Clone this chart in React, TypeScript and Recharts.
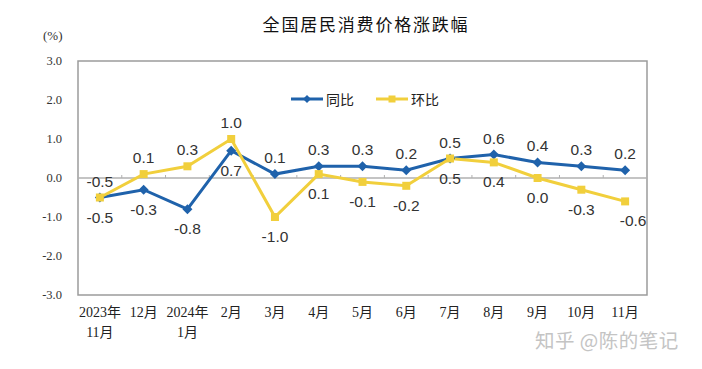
import {
  LineChart,
  Line,
  XAxis,
  YAxis,
  Legend,
  LabelList,
  ReferenceLine,
  ReferenceArea,
} from "recharts";

const months = [
  "2023年\n11月",
  "12月",
  "2024年\n1月",
  "2月",
  "3月",
  "4月",
  "5月",
  "6月",
  "7月",
  "8月",
  "9月",
  "10月",
  "11月",
];
const yoy = [-0.5, -0.3, -0.8, 0.7, 0.1, 0.3, 0.3, 0.2, 0.5, 0.6, 0.4, 0.3, 0.2];
const mom = [-0.5, 0.1, 0.3, 1.0, -1.0, 0.1, -0.1, -0.2, 0.5, 0.4, 0.0, -0.3, -0.6];
const yTicks = [-3, -2, -1, 0, 1, 2, 3];

const data = months.map((m, i) => ({ month: m, yoy: yoy[i], mom: mom[i] }));

const BLUE = "#1f62ab";
const YELLOW = "#f1cf3c";
const SANS = "'Liberation Sans', Arial, 'Noto Sans CJK SC', sans-serif";
const SERIF = "'Liberation Serif', 'Noto Sans CJK SC', serif";

// which series label sits above the point
const yoyAbove = (i: number) => i > 0 && yoy[i] >= mom[i];

const Diamond = ({ cx, cy }: any) => (
  <path
    d={`M${cx},${cy - 5}L${cx + 5},${cy}L${cx},${cy + 5}L${cx - 5},${cy}Z`}
    fill={BLUE}
  />
);

const Square = ({ cx, cy }: any) => (
  <rect x={cx - 4} y={cy - 4} width={8} height={8} fill={YELLOW} />
);

const makeLabel =
  (above: (i: number) => boolean) =>
  ({ x, y, value, index }: any) => {
    const up = above(index);
    const dx = index === months.length - 1 && !up ? 8 : 0;
    return (
      <text
        x={x + dx}
        y={up ? y - 11 : y + 25}
        textAnchor="middle"
        fontSize={15.5}
        fontFamily={SANS}
        fill="#333"
      >
        {Number(value).toFixed(1)}
      </text>
    );
  };

const MonthTick = ({ x, y, payload }: any) => {
  const lines = String(payload.value).split("\n");
  return (
    <text x={x} y={y} textAnchor="middle" fontSize={14} fontFamily={SERIF} fill="#222">
      {lines.map((l, i) => (
        <tspan key={i} x={x} dy={i === 0 ? 14 : 20}>
          {l}
        </tspan>
      ))}
    </text>
  );
};

const ZeroLine = ({ x1, y1, x2 }: any) => {
  const step = (x2 - x1) / months.length;
  return (
    <g>
      <line x1={x1} y1={y1} x2={x2} y2={y1} stroke="#b0b0b0" strokeWidth={1.5} />
      {months.slice(1).map((_, i) => (
        <line
          key={i}
          x1={x1 + step * (i + 1)}
          x2={x1 + step * (i + 1)}
          y1={y1}
          y2={y1 - 3}
          stroke="#b0b0b0"
        />
      ))}
    </g>
  );
};

const LegendContent = () => (
  <div style={{ display: "flex", gap: 22, fontFamily: "'Noto Sans CJK SC', sans-serif", fontSize: 14, color: "#222" }}>
    <div style={{ display: "flex", alignItems: "center" }}>
      <svg width={32} height={12}>
        <line x1={0} y1={6} x2={32} y2={6} stroke={BLUE} strokeWidth={3} />
        <path d="M16,2L20,6L16,10L12,6Z" fill={BLUE} />
      </svg>
      <span style={{ marginLeft: 3 }}>同比</span>
    </div>
    <div style={{ display: "flex", alignItems: "center" }}>
      <svg width={32} height={12}>
        <line x1={0} y1={6} x2={32} y2={6} stroke={YELLOW} strokeWidth={3} />
        <rect x={12.5} y={2.5} width={7} height={7} fill={YELLOW} />
      </svg>
      <span style={{ marginLeft: 3 }}>环比</span>
    </div>
  </div>
);

export default function App() {
  return (
    <div
      style={{
        position: "absolute",
        left: 0,
        top: 0,
        width: 702,
        height: 369,
        background: "#fff",
      }}
    >
      <div
        style={{
          position: "absolute",
          left: 0,
          width: 732,
          top: 11,
          textAlign: "center",
          fontFamily: "'Noto Sans CJK SC', sans-serif",
          fontSize: 17,
          letterSpacing: 1.8,
          color: "#111",
        }}
      >
        全国居民消费价格涨跌幅
      </div>
      <div
        style={{
          position: "absolute",
          left: 43,
          top: 28,
          fontFamily: SERIF,
          fontSize: 13,
          color: "#333",
        }}
      >
        (%)
      </div>
      <LineChart
        width={702}
        height={369}
        data={data}
        margin={{ top: 61, right: 55, bottom: 29, left: 38 }}
      >
        <ReferenceArea y1={-3} y2={3} fill="none" stroke="#9c9c9c" strokeWidth={1.5} />
        <ReferenceLine y={0} shape={<ZeroLine />} />
        <XAxis
          dataKey="month"
          scale="band"
          interval={0}
          axisLine={false}
          tickLine={false}
          tick={<MonthTick />}
          height={45}
        />
        <YAxis
          domain={[-3, 3]}
          ticks={yTicks}
          width={40}
          tickLine={false}
          axisLine={false}
          tickSize={6}
          tickMargin={10}
          tickFormatter={(v: number) => v.toFixed(1)}
          tick={{ fontSize: 12.5, fontFamily: SERIF, fill: "#333" }}
        />
        <Legend
          verticalAlign="middle"
          align="center"
          layout="horizontal"
          content={<LegendContent />}
          wrapperStyle={{ top: 89, left: 291, width: "auto" }}
        />
        <Line
          dataKey="yoy"
          name="同比"
          stroke={BLUE}
          strokeWidth={3}
          dot={<Diamond />}
          activeDot={false}
          isAnimationActive={false}
        >
          <LabelList dataKey="yoy" content={makeLabel(yoyAbove)} />
        </Line>
        <Line
          dataKey="mom"
          name="环比"
          stroke={YELLOW}
          strokeWidth={3}
          dot={<Square />}
          activeDot={false}
          isAnimationActive={false}
        >
          <LabelList dataKey="mom" content={makeLabel((i) => !yoyAbove(i))} />
        </Line>
      </LineChart>
      <div
        style={{
          position: "absolute",
          left: 535,
          top: 325,
          fontFamily: "'Noto Sans CJK SC', sans-serif",
          fontSize: 19.5,
          color: "#c4c4c4",
          letterSpacing: 0.5,
        }}
      >
        知乎 @陈的笔记
      </div>
    </div>
  );
}
